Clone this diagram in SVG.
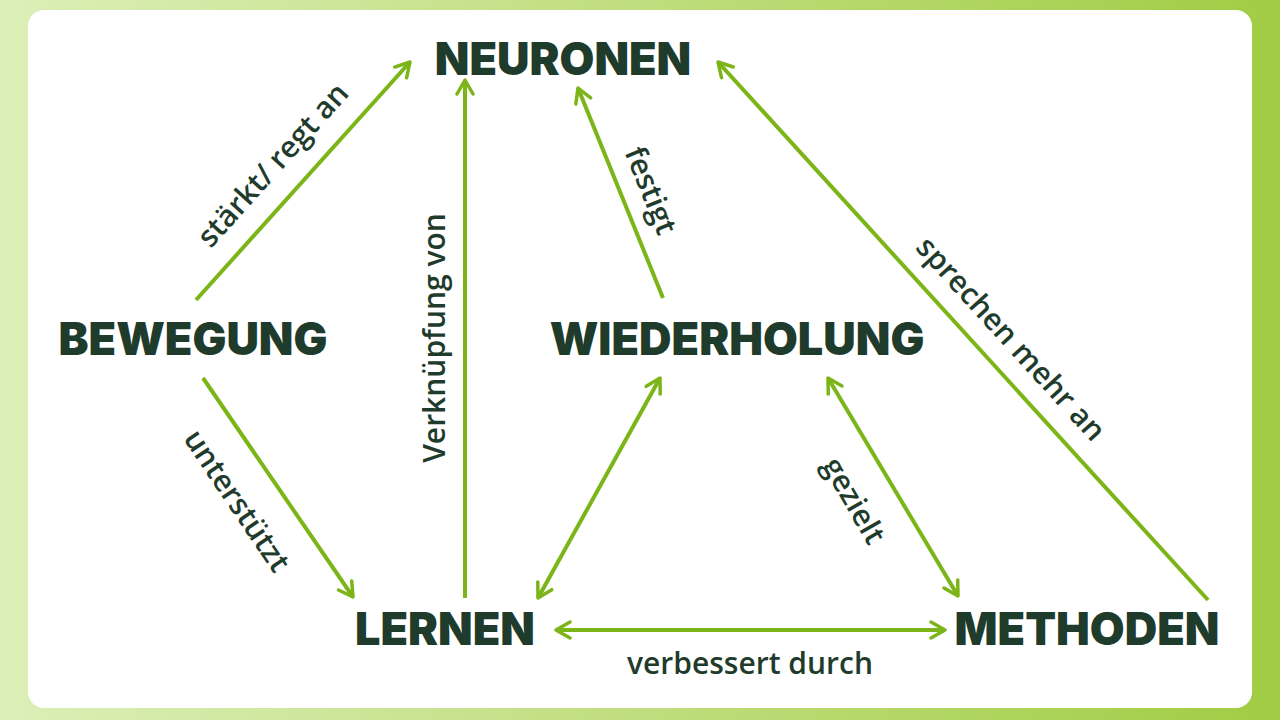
<svg xmlns="http://www.w3.org/2000/svg" width="1280" height="720" viewBox="0 0 1280 720">
<defs>
<linearGradient id="bg" x1="0" y1="0" x2="1" y2="0"><stop offset="0" stop-color="#dcefb8"/><stop offset="1" stop-color="#a2cc44"/></linearGradient>
<marker id="ah" viewBox="0 0 20 20" refX="18" refY="10" markerWidth="5" markerHeight="5" orient="auto-start-reverse" markerUnits="strokeWidth">
<polyline points="4,2 18,10 4,18" fill="none" stroke="#7cb518" stroke-width="3.5" stroke-linecap="round" stroke-linejoin="round"/>
</marker>
<style>
.n{font-family:Inter,"Liberation Sans",sans-serif;font-weight:900;font-size:45px;fill:#1f3b2b;text-anchor:middle;dominant-baseline:central}
.l{font-family:"Open Sans","Liberation Sans",sans-serif;font-weight:600;font-size:30px;fill:#1f3b2b;text-anchor:middle;dominant-baseline:central}
.c line{stroke:#7cb518;stroke-width:4;marker-end:url(#ah)}
.c line.d{marker-start:url(#ah)}
</style>
</defs>
<rect width="1280" height="720" fill="url(#bg)"/>
<rect x="28" y="10" width="1224" height="698" rx="16" fill="#fff"/>
<g class="c" id="connectors">
<line x1="196" y1="300" x2="410" y2="62"/>
<line x1="465" y1="598" x2="465" y2="80"/>
<line x1="663" y1="298" x2="578" y2="88"/>
<line x1="1208" y1="600" x2="718" y2="62"/>
<line x1="203" y1="378" x2="353" y2="597"/>
<line class="d" x1="538" y1="598" x2="660" y2="378"/>
<line class="d" x1="828" y1="378" x2="958" y2="596"/>
<line class="d" x1="556" y1="630" x2="945" y2="630"/>
<text class="l" transform="translate(272,164) rotate(-48)">stärkt/ regt an</text>
<text class="l" transform="translate(433,338) rotate(-90)">Verknüpfung von</text>
<text class="l" transform="translate(652,190) rotate(68)">festigt</text>
<text class="l" transform="translate(1012,338) rotate(47.6)">sprechen mehr an</text>
<text class="l" transform="translate(238,500) rotate(56)">unterstützt</text>
<text class="l" transform="translate(855,500) rotate(60)">gezielt</text>
<text class="l" x="750" y="662">verbessert durch</text>
</g>
<g id="neuronen"><text class="n" x="563" y="58">NEURONEN</text></g>
<g id="bewegung"><text class="n" x="193" y="338">BEWEGUNG</text></g>
<g id="wiederholung"><text class="n" x="737" y="338">WIEDERHOLUNG</text></g>
<g id="lernen"><text class="n" x="445" y="628">LERNEN</text></g>
<g id="methoden"><text class="n" x="1087" y="628">METHODEN</text></g>
</svg>
